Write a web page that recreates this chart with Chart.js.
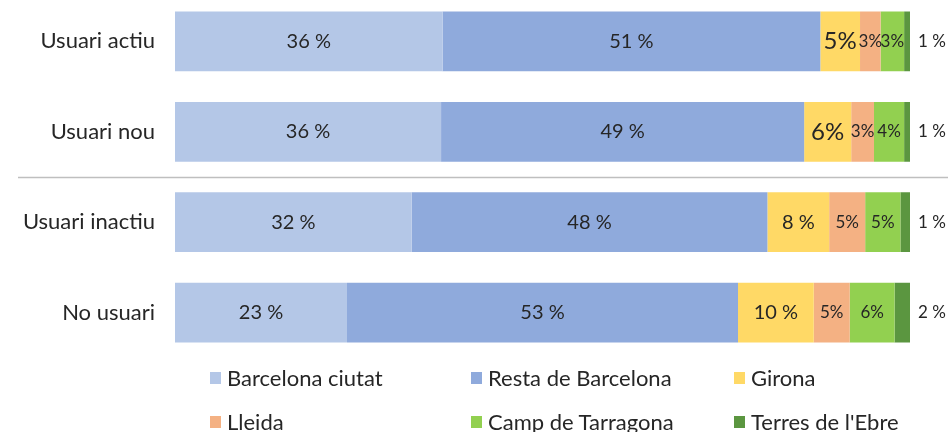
<!DOCTYPE html>
<html>
<head>
<meta charset="utf-8">
<script src="https://cdn.jsdelivr.net/npm/chart.js@4/dist/chart.umd.min.js"></script>
<style>
  html, body { margin: 0; padding: 0; background: #fff; }
  body { width: 948px; height: 432px; position: relative; overflow: hidden; font-family: Lato, "Noto Sans", sans-serif; }
  #wrap { position: absolute; left: 0; top: -37px; width: 948px; height: 428px; }
  #legend { position: absolute; left: 0; top: 362px; width: 948px; height: 70px; }
  .item { position: absolute; display: flex; align-items: center; font-size: 22px; color: #262626; white-space: nowrap; }
  .box { width: 11px; height: 12px; margin-right: 6px; }
</style>
</head>
<body>
<div id="wrap"><canvas id="grafic"></canvas></div>
<div id="legend"></div>
<script>
// categories (top to bottom)
const categories = ['Usuari actiu', 'Usuari nou', 'Usuari inactiu', 'No usuari'];

// series, % per category
const barcelonaCiutat = [36.4, 36.2, 32.2, 23.4];
const restaBarcelona  = [51.4, 49.4, 48.4, 53.2];
const girona          = [5.4, 6.4, 8.4, 10.3];
const lleida          = [2.8, 3.1, 4.9, 4.9];
const campTarragona   = [3.2, 4.1, 4.8, 6.1];
const terresEbre      = [0.8, 0.8, 1.3, 2.1];

const seriesNames  = ['Barcelona ciutat', 'Resta de Barcelona', 'Girona', 'Lleida', 'Camp de Tarragona', "Terres de l'Ebre"];
const seriesValues = [barcelonaCiutat, restaBarcelona, girona, lleida, campTarragona, terresEbre];
const seriesColors = ['#B4C7E7', '#8FAADC', '#FFD966', '#F4B183', '#92D050', '#5B9640'];

const FONT = 'Lato, "Noto Sans", sans-serif';
const TEXT = '#262626';

function etiqueta(ds, v) {
    const n = Math.round(v);
    const ambEspai = ds === 0 || ds === 1 || ds === 5 || (ds === 2 && v >= 7);
    return ambEspai ? n + ' %' : n + '%';
}

function midaLletra(ds, v) {
    if (ds === 0 || ds === 1) return 20;
    if (ds === 2) return v >= 7 ? 20 : 24;
    return 17;
}

// valors dins les barres + separador
const etiquetesPlugin = {
    id: 'etiquetes',
    afterDatasetsDraw(chart) {
        const ctx = chart.ctx;
        ctx.save();
        ctx.textBaseline = 'middle';
        chart.data.datasets.forEach((ds, i) => {
            const meta = chart.getDatasetMeta(i);
            meta.data.forEach((bar, j) => {
                const v = ds.data[j];
                ctx.font = midaLletra(i, v) + 'px ' + FONT;
                ctx.fillStyle = TEXT;
                if (i === 5) {
                    ctx.textAlign = 'left';
                    ctx.fillText(etiqueta(i, v), bar.x + 8, bar.y);
                } else {
                    ctx.textAlign = 'center';
                    ctx.fillText(etiqueta(i, v), (bar.x + bar.base) / 2, bar.y);
                }
            });
        });
        // línia separadora entre Usuari nou i Usuari inactiu
        const y = chart.scales.y;
        const ly = Math.round((y.getPixelForValue(1) + y.getPixelForValue(2)) / 2) + 0.5;
        ctx.strokeStyle = '#BFBFBF';
        ctx.lineWidth = 1.5;
        ctx.beginPath();
        ctx.moveTo(18, ly);
        ctx.lineTo(chart.width, ly);
        ctx.stroke();
        ctx.restore();
    }
};

const datasets = seriesNames.map((nom, i) => ({
    label: nom,
    data: seriesValues[i],
    backgroundColor: seriesColors[i],
    borderWidth: 0,
    categoryPercentage: 0.66,
    barPercentage: 1.0
}));

new Chart(document.getElementById('grafic').getContext('2d'), {
    type: 'bar',
    data: { labels: categories, datasets: datasets },
    plugins: [etiquetesPlugin],
    options: {
        indexAxis: 'y',
        responsive: true,
        maintainAspectRatio: false,
        animation: false,
        layout: { padding: { left: 0, right: 38, top: 0, bottom: 0 } },
        plugins: { legend: { display: false }, tooltip: { enabled: false } },
        scales: {
            x: { stacked: true, min: 0, max: 100, display: false },
            y: {
                stacked: true,
                grid: { display: false, drawTicks: false },
                border: { display: false },
                ticks: { color: TEXT, font: { family: FONT, size: 22 }, padding: 20 },
                afterFit(scale) { scale.width = 175; }
            }
        }
    }
});

// llegenda en dues files de tres
const legend = document.getElementById('legend');
const colX = [210, 471, 734];
const rowY = [2, 46];
seriesNames.forEach((nom, i) => {
    const d = document.createElement('div');
    d.className = 'item';
    d.style.left = colX[i % 3] + 'px';
    d.style.top = rowY[Math.floor(i / 3)] + 'px';
    d.innerHTML = '<span class="box" style="background:' + seriesColors[i] + '"></span><span>' + nom + '</span>';
    legend.appendChild(d);
});
</script>
</body>
</html>
